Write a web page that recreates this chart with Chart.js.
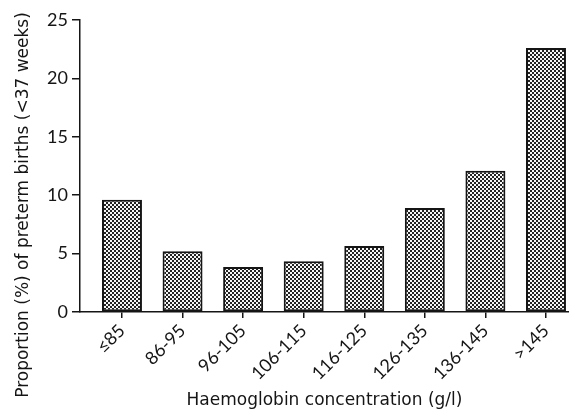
<!DOCTYPE html>
<html>
<head>
<meta charset="utf-8">
<script src="https://cdn.jsdelivr.net/npm/chart.js@4/dist/chart.umd.min.js"></script>
<style>
  html, body { margin: 0; padding: 0; background: #fff; }
  #wrap { width: 569px; height: 415px; position: relative; }
</style>
</head>
<body>
<div id="wrap"><canvas id="hbChart"></canvas></div>
<script>
// Data
const categories = ['≤85', '86-95', '96-105', '106-115', '116-125', '126-135', '136-145', '>145'];
const pretermRates = [9.6, 5.2, 3.85, 4.35, 5.65, 8.9, 12.1, 22.6];
const yTicks = [0, 5, 10, 15, 20, 25];
const xTitle = 'Haemoglobin concentration (g/l)';
const yTitle = 'Proportion (%) of preterm births (<37 weeks)';

const FONT = 'Lato, "Open Sans", sans-serif';
const TITLE_FONT = '"DejaVu Sans", sans-serif';
const INK = '#151515';

// small dithered fill like the printed bars
function makePattern() {
  const c = document.createElement('canvas');
  c.width = 4; c.height = 4;
  const g = c.getContext('2d');
  g.fillStyle = '#f6f6f6';
  g.fillRect(0, 0, 4, 4);
  g.fillStyle = '#222';
  g.fillRect(0, 0, 2, 2);
  g.fillRect(2, 2, 2, 2);
  return g.createPattern(c, 'repeat');
}

// rotated y-axis title, placed like the original (it runs below the axis)
const yTitlePlugin = {
  id: 'yTitle',
  afterDraw(chart) {
    const ctx = chart.ctx;
    ctx.save();
    ctx.translate(24, 205);
    ctx.rotate(-Math.PI / 2);
    ctx.font = '17px ' + TITLE_FONT;
    ctx.fillStyle = INK;
    ctx.textAlign = 'center';
    ctx.textBaseline = 'middle';
    ctx.fillText(yTitle, 0, 0);
    ctx.restore();
  }
};

const ctx = document.getElementById('hbChart').getContext('2d');
const chart = new Chart(ctx, {
  type: 'bar',
  data: {
    datasets: [{
      label: 'Preterm births',
      data: pretermRates.map((v, i) => ({ x: i, y: v })),
      backgroundColor: makePattern(),
      borderColor: INK,
      borderWidth: 2,
      borderSkipped: false,
      categoryPercentage: 1,
      barPercentage: 0.66
    }]
  },
  options: {
    responsive: true,
    maintainAspectRatio: false,
    animation: false,
    layout: { padding: { top: 20, right: 0, bottom: 0, left: 0 } },
    plugins: {
      legend: { display: false },
      tooltip: { enabled: false }
    },
    scales: {
      x: {
        type: 'linear',
        offset: false,
        min: -0.693,
        max: 7.38,
        afterBuildTicks: scale => {
          scale.ticks = categories.map((c, i) => ({ value: i }));
        },
        afterFit: scale => {
          scale.height = 103;
          scale.paddingLeft = 0;
          scale.paddingRight = 0;
        },
        border: { display: true, color: INK, width: 1.5 },
        grid: { offset: false, drawOnChartArea: false, drawTicks: true, tickLength: 6, color: INK, lineWidth: 1.5 },
        ticks: {
          autoSkip: false,
          minRotation: 45,
          maxRotation: 45,
          padding: 2,
          color: INK,
          font: { family: FONT, size: 18 },
          callback: v => categories[v] ?? ''
        },
        title: {
          display: true,
          text: xTitle,
          color: INK,
          font: { family: TITLE_FONT, size: 17 },
          padding: { top: 0, bottom: 4 }
        }
      },
      y: {
        min: 0,
        max: 25,
        afterBuildTicks: scale => {
          scale.ticks = yTicks.map(v => ({ value: v }));
        },
        afterFit: scale => { scale.width = 80; },
        border: { display: true, color: INK, width: 1.5 },
        grid: { drawOnChartArea: false, drawTicks: true, tickLength: 8, color: INK, lineWidth: 1.5 },
        ticks: {
          padding: 4,
          color: INK,
          font: { family: FONT, size: 18 }
        }
      }
    }
  },
  plugins: [yTitlePlugin]
});
</script>
</body>
</html>
